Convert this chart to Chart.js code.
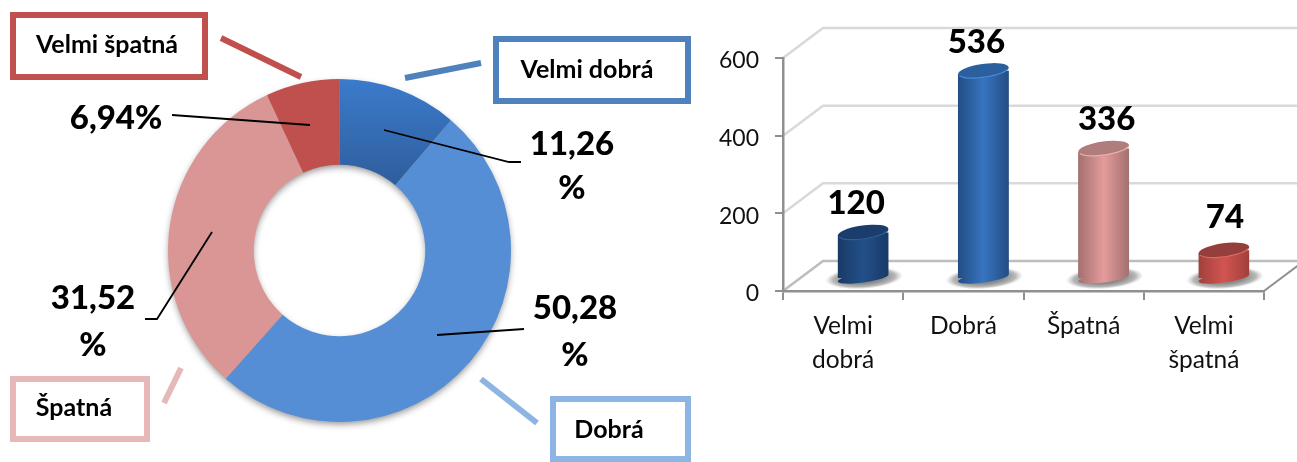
<!DOCTYPE html>
<html>
<head>
<meta charset="utf-8">
<script src="https://cdn.jsdelivr.net/npm/chart.js@4/dist/chart.umd.min.js"></script>
<style>
  html, body { margin: 0; padding: 0; background: #fff; overflow: hidden; }
  canvas { position: absolute; top: 0; }
  #pieChart { left: 0; }
  #barChart { left: 700px; }
</style>
</head>
<body>
<canvas id="pieChart" width="700" height="462"></canvas>
<canvas id="barChart" width="597" height="462"></canvas>
<script>
//data block
const categories = ['Velmi dobrá', 'Dobrá', 'Špatná', 'Velmi špatná'];
const counts = [120, 536, 336, 74];
const categoryTicks = [['Velmi', 'dobrá'], 'Dobrá', 'Špatná', ['Velmi', 'špatná']];
const yTicks = [0, 200, 400, 600];

//style block
const FONT = 'Lato, Carlito, sans-serif';
const sliceColors = ['#3a78c8', '#558ed5', '#d99694', '#c0504d'];
const boxColors = ['#4f81bd', '#8eb4e3', '#e6b9b8', '#c0504d'];
const barEdge = ['#173a66', '#224d83', '#a27070', '#a0403c'];
const barMid = ['#235089', '#3874c0', '#e59b9b', '#d2544f'];
const barTop = ['#1a3d6b', '#2c5f9e', '#b07c7c', '#943f3c'];
const barRim = ['#2f5f9c', '#4a8ad6', '#eeb0b0', '#dc6a64'];

//label boxes, leader lines and percent texts of the doughnut
const boxes = [
  { x: 496, y: 39, w: 192, h: 62, tx: 587, ty: 70, line: [481, 63, 405, 78] },
  { x: 553, y: 399, w: 135, h: 60, tx: 609, ty: 430, line: [481, 379, 537, 423] },
  { x: 13, y: 379, w: 134, h: 60, tx: 74, ty: 408, line: [181, 368, 164, 403] },
  { x: 13, y: 15, w: 192, h: 62, tx: 107, ty: 45, line: [221, 38, 301, 77] }
];
const percentPlaces = [
  { x: 572, y: 144, y2: 188, lead: [[384, 130], [509, 162], [521, 162]] },
  { x: 575, y: 308, y2: 355, lead: [[437, 335], [524, 329]] },
  { x: 93, y: 298, y2: 345, lead: [[212, 232], [157, 319], [145, 319]] },
  { x: 116, y: 118, lead: [[172, 115], [310, 125]] }
];

const total = counts.reduce((a, b) => a + b, 0);
const percentText = counts.map(v => (v / total * 100).toFixed(2).replace('.', ','));

//doughnut labels
const pieLabels = {
  id: 'pieLabels',
  beforeDatasetsDraw(chart) {
    // soft shadow under the whole ring
    const arc = chart.getDatasetMeta(0).data[0];
    const ctx = chart.ctx;
    ctx.save();
    ctx.shadowColor = 'rgba(0,0,0,0.45)';
    ctx.shadowBlur = 7;
    ctx.shadowOffsetY = 3;
    ctx.fillStyle = '#999';
    ctx.beginPath();
    ctx.arc(arc.x, arc.y, arc.outerRadius - 1, 0, Math.PI * 2);
    ctx.arc(arc.x, arc.y, arc.innerRadius + 1, 0, Math.PI * 2, true);
    ctx.fill();
    ctx.restore();
  },
  afterDatasetsDraw(chart) {
    const ctx = chart.ctx;
    ctx.save();
    ctx.textAlign = 'center';
    ctx.textBaseline = 'middle';
    boxes.forEach((b, i) => {
      ctx.strokeStyle = boxColors[i];
      ctx.lineWidth = 6;
      ctx.strokeRect(b.x, b.y, b.w, b.h);
      ctx.beginPath();
      ctx.moveTo(b.line[0], b.line[1]);
      ctx.lineTo(b.line[2], b.line[3]);
      ctx.stroke();
      ctx.fillStyle = '#000';
      ctx.font = 'bold 25px ' + FONT;
      ctx.fillText(categories[i], b.tx, b.ty);
    });
    percentPlaces.forEach((p, i) => {
      ctx.strokeStyle = '#000';
      ctx.lineWidth = 1.8;
      ctx.beginPath();
      p.lead.forEach((pt, k) => k ? ctx.lineTo(pt[0], pt[1]) : ctx.moveTo(pt[0], pt[1]));
      ctx.stroke();
      ctx.fillStyle = '#000';
      ctx.font = '900 33px ' + FONT;
      if (p.y2) {
        ctx.fillText(percentText[i], p.x, p.y);
        ctx.fillText('%', p.x, p.y2);
      } else {
        ctx.fillText(percentText[i] + '%', p.x, p.y);
      }
    });
    ctx.restore();
  }
};

const pieCtx = document.getElementById('pieChart').getContext('2d');
const firstSlice = pieCtx.createLinearGradient(0, 79, 0, 190);
firstSlice.addColorStop(0, '#3b7bcb');
firstSlice.addColorStop(1, '#2e5c9a');

const pieChart = new Chart(pieCtx, {
  type: 'doughnut',
  data: {
    labels: categories,
    datasets: [{
      data: counts,
      backgroundColor: [firstSlice].concat(sliceColors.slice(1)),
      borderWidth: 0
    }]
  },
  options: {
    responsive: false,
    animation: false,
    cutout: '50%',
    layout: { padding: { left: 168, right: 189, top: 79, bottom: 40 } },
    plugins: { legend: { display: false }, tooltip: { enabled: false } }
  },
  plugins: [pieLabels]
});

//3d look of the bar chart: how far the bars stand behind the front edge
const DEPTH_X = 20, DEPTH_Y = -12;
const WALL_X = 40, WALL_Y = -30;
const TILT = -0.135, CAP_RY = 7, FOOT_RY = 4.5;
const valueShift = [[-7, -21], [-7, -20], [3, -21], [1, -25]];

function capPath(ctx, x, y, rx, ry) {
  ctx.beginPath();
  ctx.ellipse(x, y, rx, ry, TILT, 0, Math.PI * 2);
}

// shift is 0 for the library bars, their context is already translated
function bodyGradient(chart, i, shift) {
  const cx = chart.scales.x.getPixelForValue(i) + shift;
  // scale has no pixels yet on the first pass
  if (!isFinite(cx)) return barMid[i];
  const g = chart.ctx.createLinearGradient(cx - 25.5, 0, cx + 25.5, 0);
  g.addColorStop(0, barEdge[i]);
  g.addColorStop(0.5, barMid[i]);
  g.addColorStop(1, barEdge[i]);
  return g;
}

const cylinders = {
  id: 'cylinders',
  beforeDraw(chart) {
    // walls and floor
    const ctx = chart.ctx;
    const { left, right } = chart.chartArea;
    const y = chart.scales.y;
    ctx.save();
    yTicks.forEach(v => {
      const py = y.getPixelForValue(v);
      ctx.strokeStyle = v === 0 ? '#bdbdbd' : '#d9d9d9';
      ctx.lineWidth = 2.5;
      ctx.beginPath();
      ctx.moveTo(left, py);
      ctx.lineTo(left + WALL_X, py + WALL_Y);
      ctx.lineTo(chart.width + 20, py + WALL_Y);
      ctx.stroke();
    });
    const y0 = y.getPixelForValue(0);
    ctx.strokeStyle = '#8f8f8f';
    ctx.lineWidth = 2;
    ctx.beginPath();
    ctx.moveTo(right, y0);
    ctx.lineTo(right + WALL_X, y0 + WALL_Y);
    ctx.stroke();
    ctx.restore();
  },
  beforeDatasetDraw(chart, args) {
    const ctx = chart.ctx;
    const bars = chart.getDatasetMeta(args.index).data;
    // shadows on the floor
    bars.forEach(b => {
      const sx = b.x + DEPTH_X + 1, sy = b.base + DEPTH_Y;
      ctx.save();
      ctx.translate(sx, sy);
      ctx.rotate(TILT / 2);
      ctx.scale(1, 0.28);
      const g = ctx.createRadialGradient(0, 0, 20, 0, 0, 39);
      g.addColorStop(0, 'rgba(100,100,100,0.75)');
      g.addColorStop(0.6, 'rgba(125,125,125,0.55)');
      g.addColorStop(1, 'rgba(170,170,170,0)');
      ctx.fillStyle = g;
      ctx.beginPath();
      ctx.arc(0, 0, 39, 0, Math.PI * 2);
      ctx.fill();
      ctx.restore();
    });
    // rounded foot of each cylinder
    bars.forEach((b, i) => {
      ctx.fillStyle = bodyGradient(chart, i, DEPTH_X);
      capPath(ctx, b.x + DEPTH_X, b.base + DEPTH_Y, b.width / 2, FOOT_RY);
      ctx.fill();
    });
    // library bars are moved back and cut to the tilted outline
    ctx.save();
    ctx.beginPath();
    const rise = Math.sin(-TILT) * 25.5;
    bars.forEach(b => {
      const l = b.x + DEPTH_X - b.width / 2, r = b.x + DEPTH_X + b.width / 2;
      const t = b.y + DEPTH_Y, f = b.base + DEPTH_Y;
      ctx.moveTo(l, t + rise);
      ctx.lineTo(r, t - rise);
      ctx.lineTo(r, f - rise);
      ctx.lineTo(l, f + rise);
      ctx.closePath();
    });
    ctx.clip();
    ctx.translate(DEPTH_X, DEPTH_Y);
  },
  afterDatasetDraw(chart, args) {
    const ctx = chart.ctx;
    ctx.restore();
    const bars = chart.getDatasetMeta(args.index).data;
    ctx.save();
    bars.forEach((b, i) => {
      const x = b.x + DEPTH_X, y = b.y + DEPTH_Y, rx = b.width / 2;
      ctx.fillStyle = barTop[i];
      capPath(ctx, x, y, rx, CAP_RY);
      ctx.fill();
      ctx.strokeStyle = barRim[i];
      ctx.lineWidth = 1.2;
      ctx.beginPath();
      ctx.ellipse(x, y, rx - 0.5, CAP_RY - 0.5, TILT, 0.25, Math.PI - 0.25);
      ctx.stroke();
      // value above the bar
      ctx.fillStyle = '#000';
      ctx.font = '900 33px ' + FONT;
      ctx.textAlign = 'center';
      ctx.textBaseline = 'middle';
      ctx.fillText(String(counts[i]), x + valueShift[i][0], y - CAP_RY - 1 + valueShift[i][1]);
    });
    ctx.restore();
  }
};

const barChart = new Chart(document.getElementById('barChart'), {
  type: 'bar',
  data: {
    labels: categoryTicks,
    datasets: [{
      data: counts,
      backgroundColor: c => bodyGradient(c.chart, c.dataIndex, 0),
      borderWidth: 0,
      barPercentage: 0.85,
      categoryPercentage: 0.5,
      clip: false
    }]
  },
  options: {
    responsive: false,
    animation: false,
    layout: { padding: { top: 58, right: 33, left: 0, bottom: 0 } },
    plugins: { legend: { display: false }, tooltip: { enabled: false } },
    scales: {
      x: {
        border: { color: '#8f8f8f', width: 2.5 },
        grid: { drawOnChartArea: false, color: '#8f8f8f', lineWidth: 2, tickLength: 9 },
        ticks: {
          color: '#111', padding: 10, maxRotation: 0, autoSkip: false,
          font: { family: FONT, size: 24.5, lineHeight: 1.35 }
        },
        afterFit: s => { s.height = 171; }
      },
      y: {
        min: 0,
        max: 600,
        border: { color: '#8f8f8f', width: 2.5 },
        grid: { drawOnChartArea: false, color: '#8f8f8f', lineWidth: 2, tickLength: 8 },
        ticks: {
          stepSize: 200, color: '#111', padding: 16,
          // empty first line pushes the number down a little
          callback: v => ['', String(v)],
          font: { family: FONT, size: 23, lineHeight: 0.26 }
        },
        afterFit: s => { s.width = 83; }
      }
    }
  },
  plugins: [cylinders]
});
</script>
</body>
</html>
